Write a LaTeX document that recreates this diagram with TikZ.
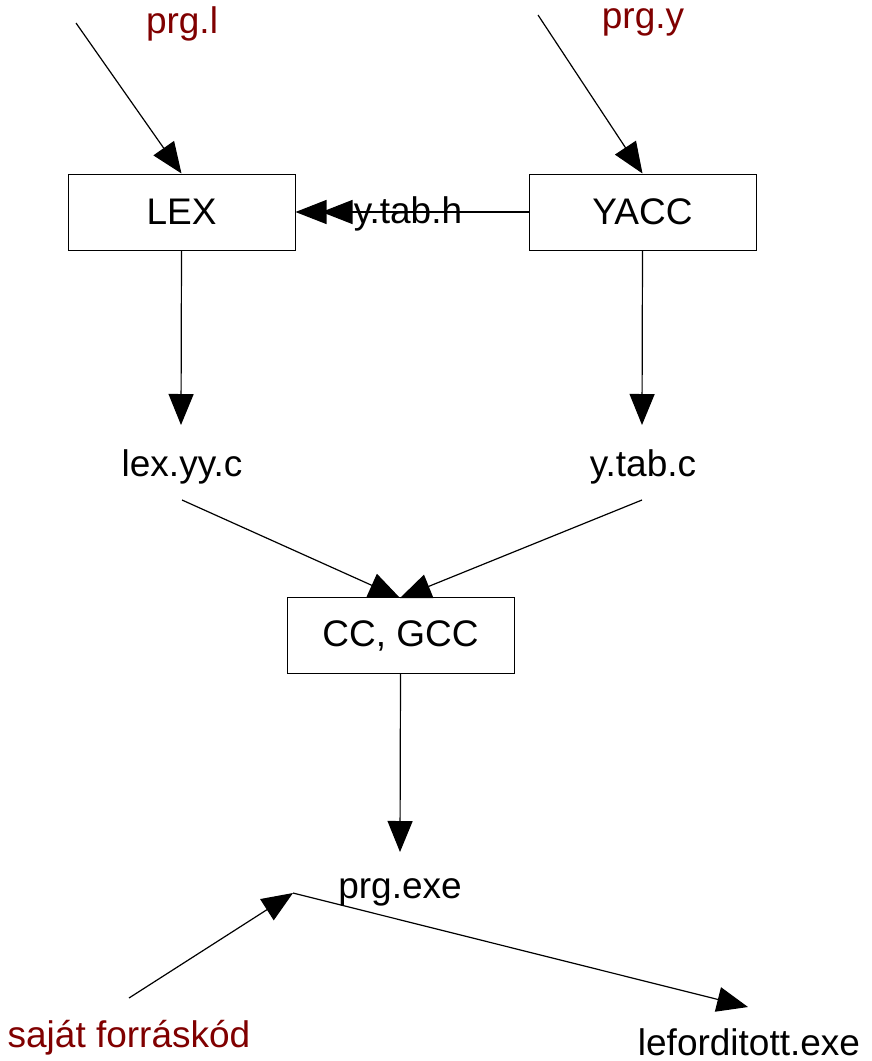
\documentclass[tikz,border=0pt]{standalone}
\usepackage{fontspec}
\setmainfont{Liberation Sans}
\usetikzlibrary{arrows.meta}
\definecolor{src}{HTML}{800000}
\tikzset{
  box/.style={draw, line width=1pt, minimum width=227pt, minimum height=76pt, inner sep=0pt, font=\fontsize{37}{41}\selectfont},
  lbl/.style={inner sep=0pt, font=\fontsize{37}{41}\selectfont},
  srclbl/.style={lbl, text=src},
  conn/.style={line width=1.2pt, -{Triangle[length=31pt,width=25pt]}},
  dconn/.style={line width=1.2pt, -{Triangle[length=31pt,width=24pt,sep=-5pt]Triangle[length=31pt,width=24pt]}}
}
\begin{document}
\begin{tikzpicture}[x=1pt,y=-1pt]
\useasboundingbox (0,0) rectangle (872,1061);
\node[box] (lex) at (181.5,212) {LEX};
\node[box] (yacc) at (642.5,212) {YACC};
\node[box] (cc) at (400.5,635.5) {CC, GCC};
\node[srclbl] (prgl) at (182,24) {prg.l};
\node[srclbl] (prgy) at (643,22) {prg.y};
\node[lbl] (lexc) at (182,467) {lex.yy.c};
\node[lbl] (ytabc) at (643,467) {y.tab.c};
\node[lbl] (exe) at (400,892) {prg.exe};
\node[srclbl] (own) at (129,1038) {saját forráskód};
\node[lbl] (out) at (749,1042) {leforditott.exe};
\coordinate (sl) at (76,23);
\coordinate (sy) at (538,15);
\coordinate (lb) at (182,500);
\coordinate (yb) at (642,500);
\coordinate (ccin) at (400,598);
\coordinate (lexin) at (181,425);
\coordinate (yin) at (642,425);
\coordinate (exein) at (400,852);
\coordinate (os) at (129,998);
\coordinate (j) at (293,893);
\coordinate (oute) at (748,1007);
\draw[conn] (sl) -- (lex.north);
\draw[conn] (sy) -- (yacc.north);
\draw[dconn] (yacc.west) -- (lex.east);
\node[lbl] (ytabh) at (408,214) {y.tab.h};
\draw[conn] (lex.south) -- (lexin);
\draw[conn] (yacc.south) -- (yin);
\draw[conn] (lb) -- (ccin);
\draw[conn] (yb) -- (ccin);
\draw[conn] (cc.south) -- (exein);
\draw[conn] (os) -- (j);
\draw[conn] (j) -- (oute);
\end{tikzpicture}
\end{document}
